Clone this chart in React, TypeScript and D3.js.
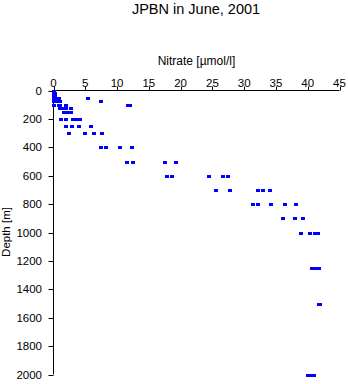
import React from "react";
import * as d3 from "d3";

const depths = [0, 10, 20, 30, 50, 75, 100, 125, 150, 200, 250, 300, 400, 500, 600, 700, 800, 900, 1000, 1250, 1500, 2000];
const nitrate: number[][] = [
  [0.05, 0.15],
  [0.05, 0.15],
  [0.05, 0.2],
  [0.1, 0.25],
  [0.1, 0.4, 0.8, 5.4],
  [0.1, 0.5, 1.1, 7.5],
  [0.05, 0.8, 1.1, 2.0, 11.7, 12.1],
  [1.0, 1.4, 1.9, 2.7],
  [1.7, 2.1, 2.7],
  [1.2, 2.0, 3.1, 3.5, 4.1],
  [1.9, 2.9, 4.0, 5.9],
  [2.4, 4.9, 6.4, 7.6],
  [7.5, 8.2, 10.4, 12.4],
  [11.6, 12.5, 17.6, 19.3],
  [17.8, 18.7, 24.4, 26.7, 27.5],
  [25.5, 27.7, 32.1, 33.0, 34.1],
  [31.4, 32.1, 34.3, 36.5, 38.2],
  [36.1, 38.0, 39.3],
  [39.0, 40.3, 41.1, 41.6],
  [40.7, 41.2, 41.8],
  [41.8, 42.0],
  [40.1, 40.6, 41.0],
];
const xTicks = [0, 5, 10, 15, 20, 25, 30, 35, 40, 45];
const yTicks = [0, 200, 400, 600, 800, 1000, 1200, 1400, 1600, 1800, 2000];

const W = 348, H = 384;
const font = "'Liberation Sans', Arial, sans-serif";

export default function App() {
  const x = d3.scaleLinear().domain([0, 45]).range([53.5, 339.5]);
  const y = d3.scaleLinear().domain([0, 2000]).range([90.5, 374.5]);
  const pts = depths.flatMap((d, i) => nitrate[i].map((n) => ({ d, n })));
  return (
    <svg width={W} height={H} style={{ position: "absolute", left: 0, top: 0, background: "#fff" }} fontFamily={font}>
      <text x={196} y={14} textAnchor="middle" fontSize={14.5} fill="#000">JPBN in June, 2001</text>
      <text x={196.5} y={64.5} textAnchor="middle" fontSize={12} fill="#000">Nitrate [µmol/l]</text>
      <text transform={`translate(10,232) rotate(-90)`} textAnchor="middle" fontSize={11.5} fill="#000">Depth [m]</text>
      <line x1={x(0)} x2={x(45)} y1={y(0)} y2={y(0)} stroke="#000" strokeWidth={1} />
      <line x1={x(0)} x2={x(0)} y1={y(0)} y2={y(2000)} stroke="#000" strokeWidth={1} />
      {xTicks.map((t) => (
        <g key={"x" + t}>
          <line x1={Math.round(x(t)) + 0.5} x2={Math.round(x(t)) + 0.5} y1={y(0)} y2={y(0) - 4} stroke="#000" />
          <text x={x(t)} y={86.5} textAnchor="middle" fontSize={11.5} fill="#000">{t}</text>
        </g>
      ))}
      {yTicks.map((t) => (
        <g key={"y" + t}>
          <line x1={x(0) - 5} x2={x(0)} y1={Math.round(y(t)) + 0.5} y2={Math.round(y(t)) + 0.5} stroke="#000" />
          <text x={42} y={y(t) + 4} textAnchor="end" fontSize={11.5} fill="#000">{t}</text>
        </g>
      ))}
      {pts.map((p, i) => (
        <rect key={i} x={Math.round(x(p.n)) - 2} y={Math.round(y(p.d)) - 1} width={4} height={3} fill="#0000ff" />
      ))}
    </svg>
  );
}
